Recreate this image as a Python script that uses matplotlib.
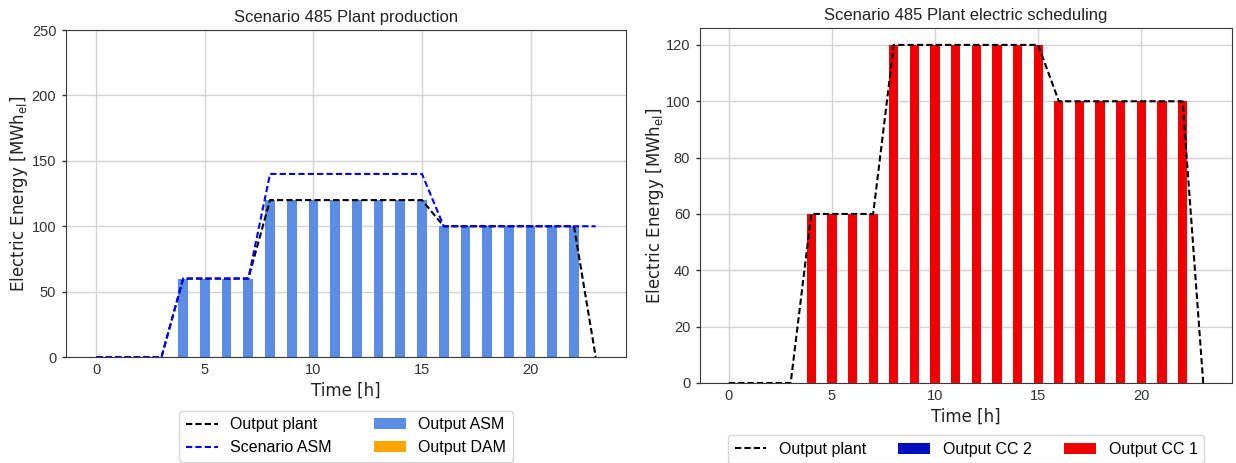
import matplotlib.pyplot as plt
import numpy as np

# Hourly data
hours = np.arange(24)
output_plant = [0, 0, 0, 0, 60, 60, 60, 60, 120, 120, 120, 120, 120, 120, 120, 120,
                100, 100, 100, 100, 100, 100, 100, 0]
scenario_asm = [0, 0, 0, 0, 60, 60, 60, 60, 140, 140, 140, 140, 140, 140, 140, 140,
                100, 100, 100, 100, 100, 100, 100, 100]
output_asm = output_plant
output_dam = [0] * 24
output_cc2 = [0] * 24
output_cc1 = output_plant

plt.rcParams['font.family'] = ['Liberation Sans', 'DejaVu Sans']
plt.rcParams['axes.edgecolor'] = '#3a3a3a'
plt.rcParams['grid.color'] = '#d3d3d3'
plt.rcParams['xtick.major.size'] = 0
plt.rcParams['ytick.major.size'] = 3
plt.rcParams['ytick.major.width'] = 1
plt.rcParams['xtick.color'] = '#333333'
plt.rcParams['ytick.color'] = '#333333'

fig = plt.figure(figsize=(12.36, 4.63), dpi=100)
ax1 = fig.add_axes([0.0534, 0.2289, 0.4531, 0.7061])
ax2 = fig.add_axes([0.5663, 0.1728, 0.4305, 0.7667])

label_font = {'family': 'DejaVu Sans', 'size': 12, 'color': '#222222'}
ylabel = 'Electric Energy [MWh$_{\\mathrm{el}}$]'
dash = (3.0, 1.5)
leg_kw = dict(loc='upper center', fontsize=11.5, handlelength=2.0, handletextpad=0.8,
              frameon=True, edgecolor='#cccccc')

# ========== Left: plant production ==========
ax1.set_axisbelow(True)
ax1.grid(True, linewidth=1)
ax1.plot(hours, output_plant, '--', dashes=dash, color='black', linewidth=1.5, label='Output plant', zorder=3)
ax1.plot(hours, scenario_asm, '--', dashes=dash, color='blue', linewidth=1.5, label='Scenario ASM', zorder=3)
ax1.bar(hours, output_asm, width=0.45, color='#5a8de3', label='Output ASM', zorder=2)
ax1.bar(hours, output_dam, width=0.45, bottom=output_asm, color='orange', label='Output DAM', zorder=2)
ax1.set_ylim(0, 250)
ax1.set_xticks([0, 5, 10, 15, 20])
ax1.set_title('Scenario 485 Plant production', fontsize=12, color='#222222')
ax1.set_xlabel('Time [h]', fontdict=label_font, labelpad=4)
ax1.set_ylabel(ylabel, fontdict=label_font, labelpad=1)
ax1.tick_params(labelsize=10.5, pad=4)
ax1.legend(bbox_to_anchor=(0.5, -0.14), ncol=2, columnspacing=2.6, **leg_kw)

# ========== Right: electric scheduling ==========
ax2.set_axisbelow(True)
ax2.grid(True, linewidth=1)
ax2.plot(hours, output_plant, '--', dashes=dash, color='black', linewidth=1.5, label='Output plant', zorder=3)
ax2.bar(hours, output_cc2, width=0.45, color='#0010c0', label='Output CC 2', zorder=2)
ax2.bar(hours, output_cc1, width=0.45, bottom=output_cc2, color='#f00000', label='Output CC 1', zorder=2)
ax2.set_xticks([0, 5, 10, 15, 20])
ax2.set_title('Scenario 485 Plant electric scheduling', fontsize=12, color='#222222')
ax2.set_xlabel('Time [h]', fontdict=label_font, labelpad=4)
ax2.set_ylabel(ylabel, fontdict=label_font, labelpad=0)
ax2.tick_params(labelsize=10.5, pad=4)
ax2.legend(bbox_to_anchor=(0.5, -0.125), ncol=3, columnspacing=2.0, **leg_kw)

fig.savefig('out.png', dpi=100)
